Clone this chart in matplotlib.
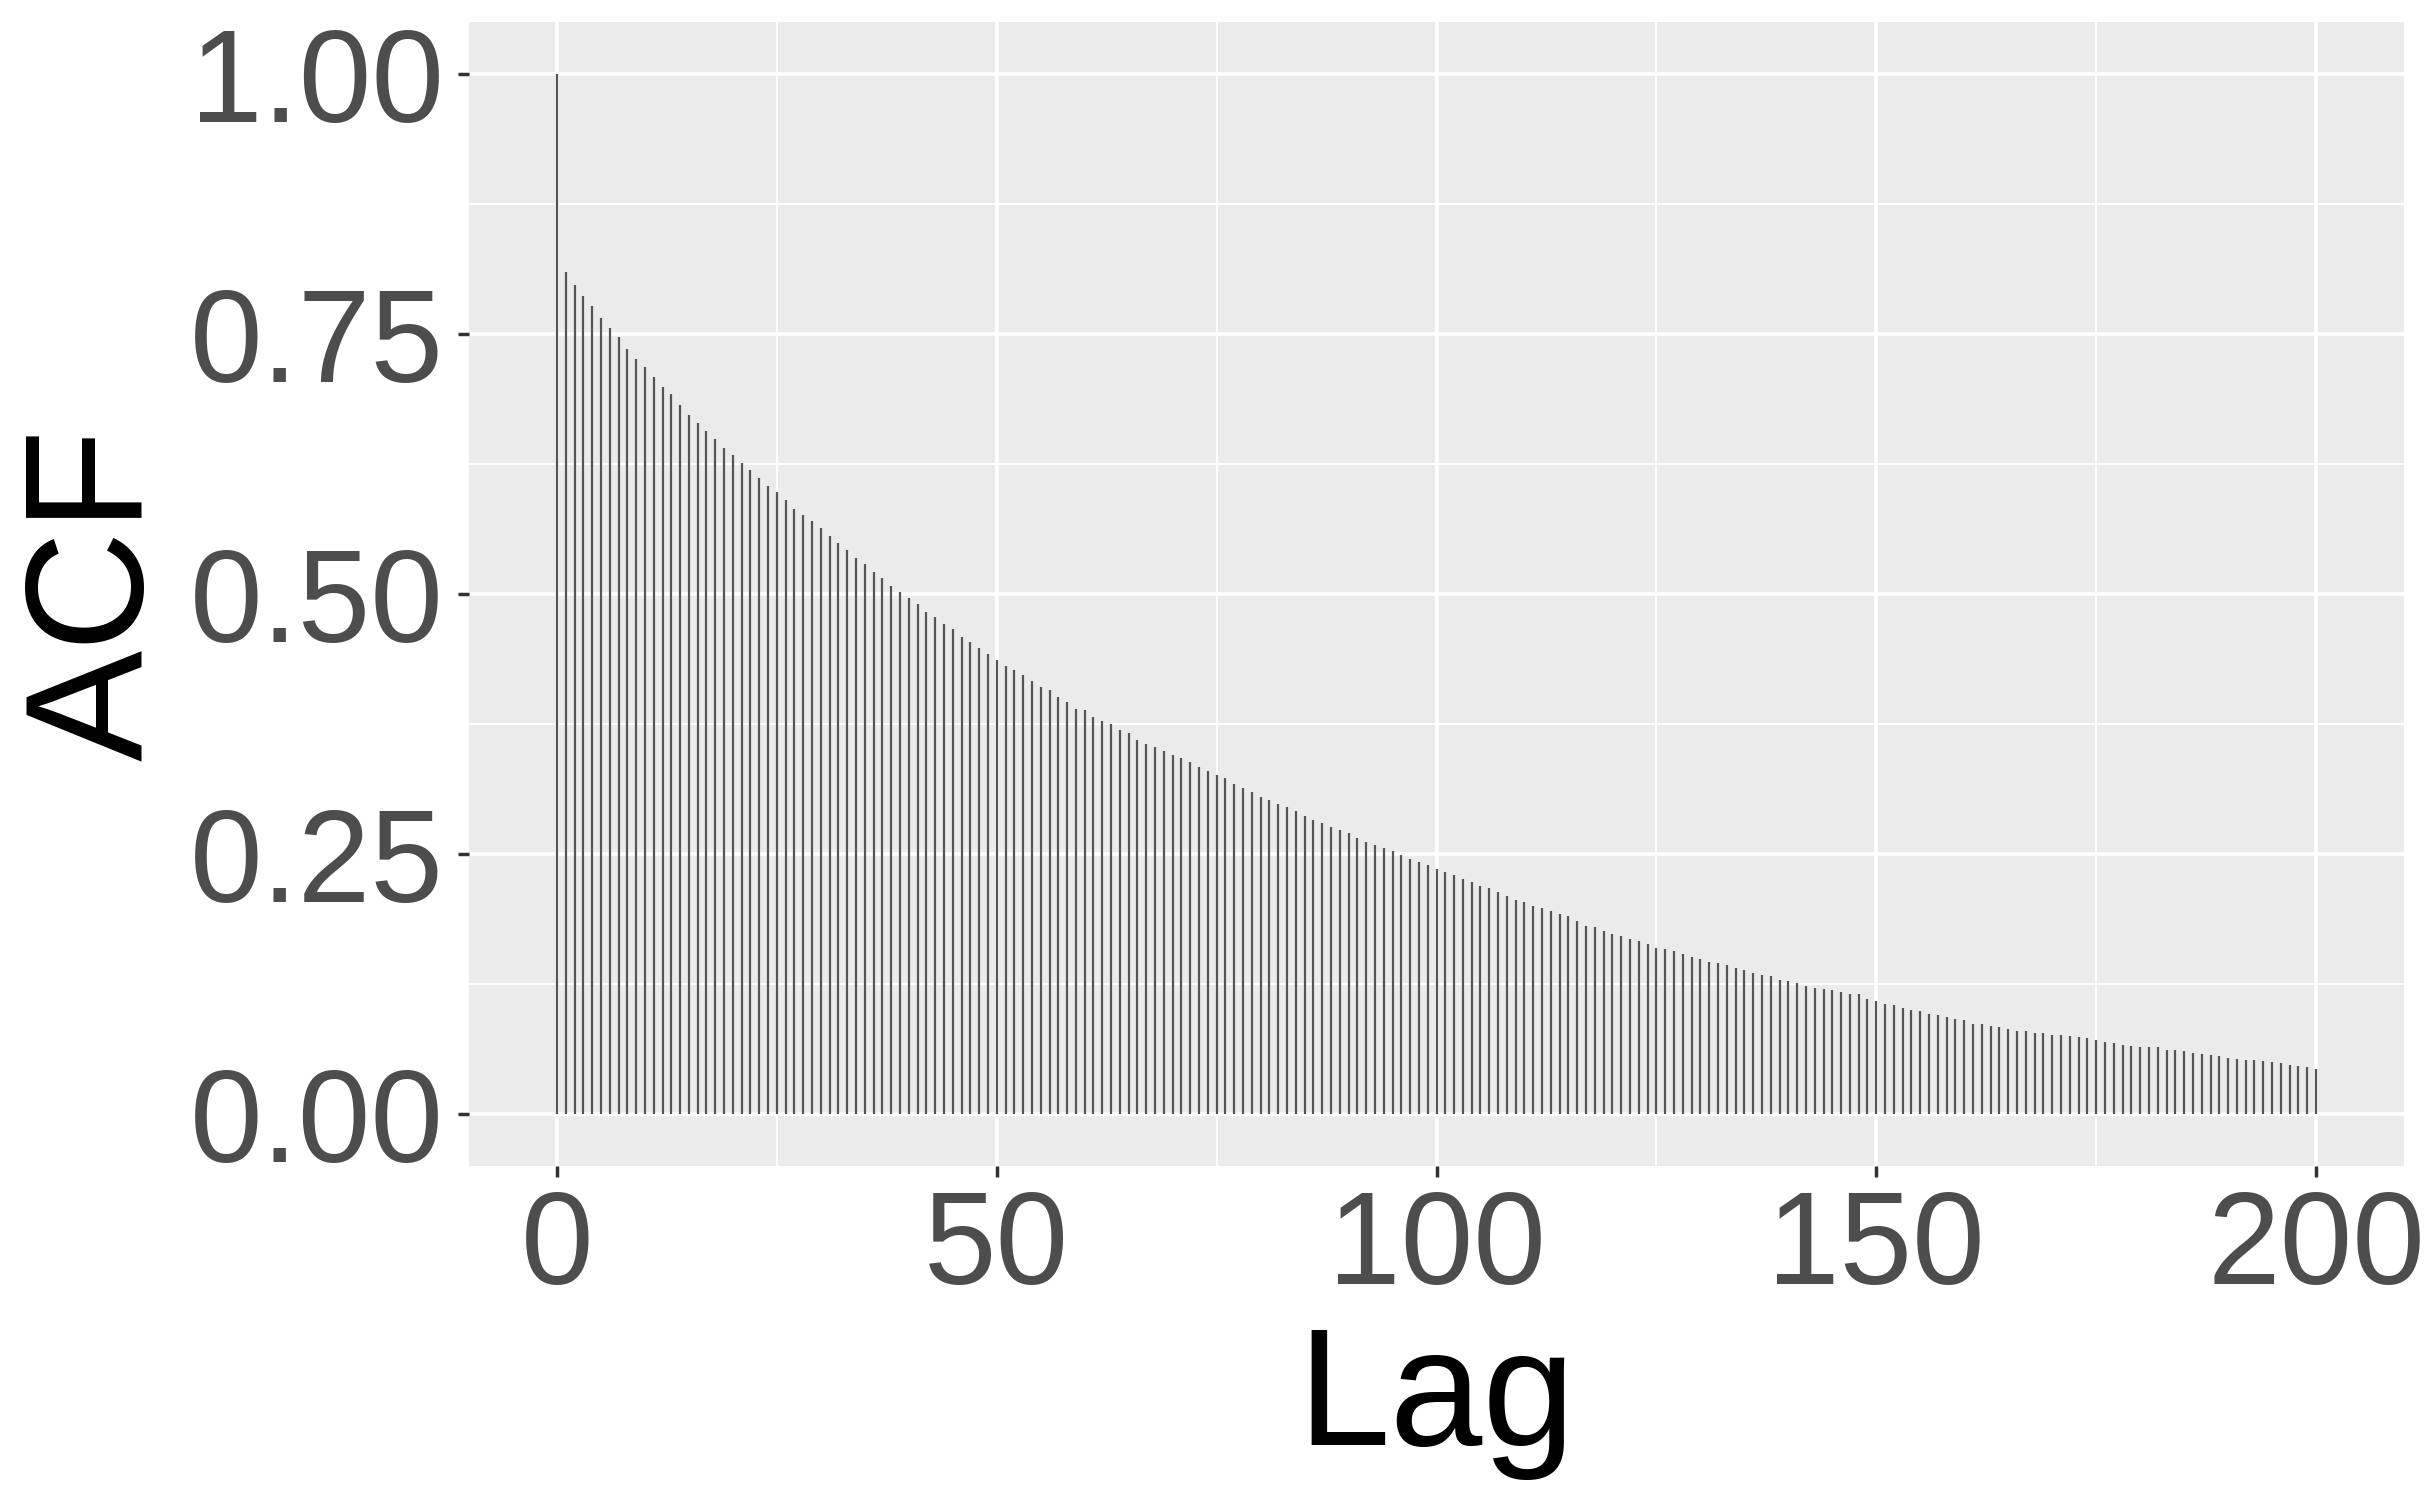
#!/usr/bin/env python3
"""ACF of a slowly decaying series, drawn in ggplot2 grey style."""

import matplotlib

matplotlib.use("Agg")
import matplotlib.pyplot as plt
import numpy as np

# ACF values, lag 0 .. 200
acf_values = [
    1.000, 0.810, 0.797, 0.787, 0.777, 0.765, 0.756, 0.747, 0.736, 0.726,
    0.718, 0.709, 0.699, 0.692, 0.682, 0.672, 0.664, 0.657, 0.649, 0.640,
    0.634, 0.626, 0.619, 0.612, 0.604, 0.598, 0.590, 0.582, 0.576, 0.570,
    0.563, 0.556, 0.549, 0.542, 0.535, 0.529, 0.521, 0.515, 0.508, 0.502,
    0.496, 0.490, 0.483, 0.478, 0.471, 0.466, 0.459, 0.454, 0.448, 0.442,
    0.437, 0.431, 0.427, 0.422, 0.416, 0.411, 0.408, 0.401, 0.396, 0.389,
    0.388, 0.382, 0.378, 0.375, 0.369, 0.366, 0.360, 0.356, 0.353, 0.349,
    0.345, 0.342, 0.338, 0.334, 0.330, 0.326, 0.323, 0.317, 0.313, 0.310,
    0.305, 0.302, 0.298, 0.295, 0.291, 0.287, 0.283, 0.280, 0.276, 0.273,
    0.270, 0.265, 0.262, 0.259, 0.256, 0.253, 0.249, 0.245, 0.242, 0.239,
    0.236, 0.233, 0.230, 0.226, 0.223, 0.219, 0.217, 0.213, 0.210, 0.206,
    0.204, 0.200, 0.198, 0.195, 0.192, 0.190, 0.186, 0.181, 0.180, 0.176,
    0.173, 0.171, 0.168, 0.166, 0.163, 0.160, 0.159, 0.157, 0.154, 0.151,
    0.149, 0.146, 0.145, 0.143, 0.140, 0.138, 0.136, 0.134, 0.133, 0.129,
    0.128, 0.126, 0.123, 0.121, 0.120, 0.119, 0.117, 0.115, 0.115, 0.111,
    0.109, 0.106, 0.105, 0.102, 0.100, 0.099, 0.096, 0.095, 0.093, 0.091,
    0.090, 0.087, 0.087, 0.085, 0.084, 0.082, 0.080, 0.080, 0.078, 0.078,
    0.076, 0.076, 0.075, 0.074, 0.073, 0.071, 0.069, 0.068, 0.066, 0.065,
    0.064, 0.064, 0.064, 0.062, 0.062, 0.061, 0.059, 0.058, 0.057, 0.056,
    0.054, 0.053, 0.052, 0.052, 0.051, 0.050, 0.049, 0.047, 0.046, 0.045,
    0.043,
]
lags = np.arange(len(acf_values))

x_ticks = [0, 50, 100, 150, 200]
x_minor = [25, 75, 125, 175]
y_ticks = [0.00, 0.25, 0.50, 0.75, 1.00]
y_minor = [0.125, 0.375, 0.625, 0.875]
y_tick_labels = ["0.00", "0.25", "0.50", "0.75", "1.00"]

plt.rcParams["font.family"] = ["Liberation Sans", "DejaVu Sans"]

fig = plt.figure(figsize=(24.27, 15.0), dpi=100)
ax = fig.add_axes([469 / 2427, 1 - 1166 / 1500, (2404 - 469) / 2427, (1166 - 22) / 1500])
ax.set_facecolor("#EBEBEB")

for x in x_ticks:
    ax.axvline(x, color="white", lw=2.6, zorder=1)
for x in x_minor:
    ax.axvline(x, color="white", lw=1.4, zorder=1)
for y in y_ticks:
    ax.axhline(y, color="white", lw=2.6, zorder=1)
for y in y_minor:
    ax.axhline(y, color="white", lw=1.4, zorder=1)

ax.vlines(lags, 0, acf_values, color="#555555", lw=1.6, zorder=2)

ax.set_xlim(-10, 210)
ax.set_ylim(-0.05, 1.05)
ax.set_xticks(x_ticks)
ax.set_xticklabels([str(x) for x in x_ticks])
ax.set_yticks(y_ticks)
ax.set_yticklabels(y_tick_labels)
ax.tick_params(axis="both", colors="#333333", length=8, width=2.5, pad=8,
               labelsize=94, labelcolor="#4D4D4D")
ax.tick_params(axis="y", pad=10)
for spine in ax.spines.values():
    spine.set_visible(False)

ax.set_xlabel("Lag", fontsize=120, color="black", labelpad=9)
ax.set_ylabel("ACF", fontsize=120, color="black", labelpad=9)

fig.savefig("out.png", dpi=100)
plt.close(fig)
